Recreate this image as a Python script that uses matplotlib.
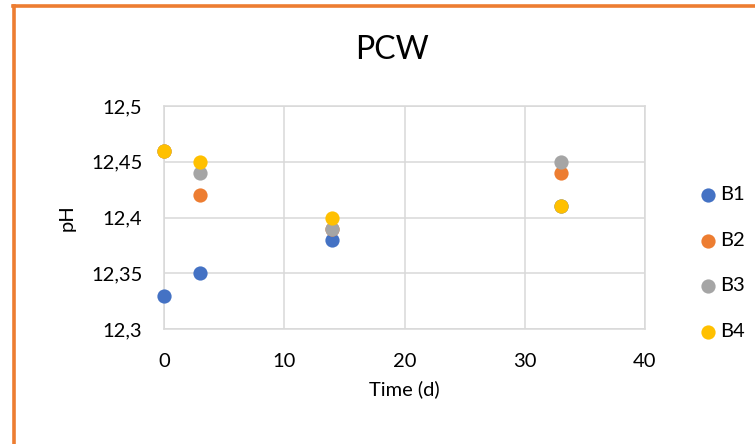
import matplotlib
matplotlib.use("Agg")
import matplotlib.pyplot as plt
from matplotlib.lines import Line2D
from matplotlib.ticker import FuncFormatter, MultipleLocator

plt.rcParams['font.family'] = ['Lato', 'DejaVu Sans']

# sampling days
days = [0, 3, 14, 33]

# pH per bottle
ph_b1 = [12.33, 12.35, 12.38, 12.41]
ph_b2 = [12.46, 12.42, 12.39, 12.44]
ph_b3 = [12.46, 12.44, 12.39, 12.45]
ph_b4 = [12.46, 12.45, 12.40, 12.41]

series_names = ["B1", "B2", "B3", "B4"]
series_colors = ["#4472C4", "#ED7D31", "#A5A5A5", "#FFC000"]
grid_col = "#D9D9D9"

fig = plt.figure(figsize=(7.55, 4.44), dpi=100)
ax = fig.add_axes([164/755, 1 - 329/444, (645-164)/755, (329-106)/444])

for vals, name, col in zip([ph_b1, ph_b2, ph_b3, ph_b4], series_names, series_colors):
    ax.scatter(days, vals, s=105, color=col, label=name, zorder=3, clip_on=False, linewidths=0)

ax.set_xlim(0, 40)
ax.set_ylim(12.3, 12.5)
ax.xaxis.set_major_locator(MultipleLocator(10))
ax.yaxis.set_major_locator(MultipleLocator(0.05))
ax.yaxis.set_major_formatter(FuncFormatter(lambda v, p: f"{v:.2f}".rstrip('0').replace('.', ',')))
ax.grid(True, color=grid_col, linewidth=1.1)
ax.set_axisbelow(True)
for sp in ax.spines.values():
    sp.set_color(grid_col)
    sp.set_linewidth(1.1)
ax.tick_params(length=0, labelsize=14.5, colors="#000000")
ax.tick_params(axis='y', pad=15.5)
ax.tick_params(axis='x', pad=17)

ax.set_xlabel("Time (d)", fontsize=14.5, labelpad=8)
ax.set_ylabel("pH", fontsize=14.5, labelpad=11)
fig.text(392/755, 1 - 50/444, "PCW", fontsize=23, ha="center", va="center")

fig.legend(loc="upper left", bbox_to_anchor=(696/755, 1 - 186/444), frameon=False,
           fontsize=14.5, handletextpad=0.0, labelspacing=1.42, markerscale=1.0,
           borderpad=0, borderaxespad=0, handlelength=1.2)

# orange frame (left and top edges)
fig.add_artist(Line2D([14/755, 14/755], [-0.1, 1 - 6.5/444], color="#ED7D31", linewidth=2.6,
                      transform=fig.transFigure))
fig.add_artist(Line2D([12.7/755, 1.1], [1 - 6.5/444, 1 - 6.5/444], color="#ED7D31", linewidth=2.6,
                      transform=fig.transFigure))

fig.savefig("out.png", dpi=100, facecolor="white")
